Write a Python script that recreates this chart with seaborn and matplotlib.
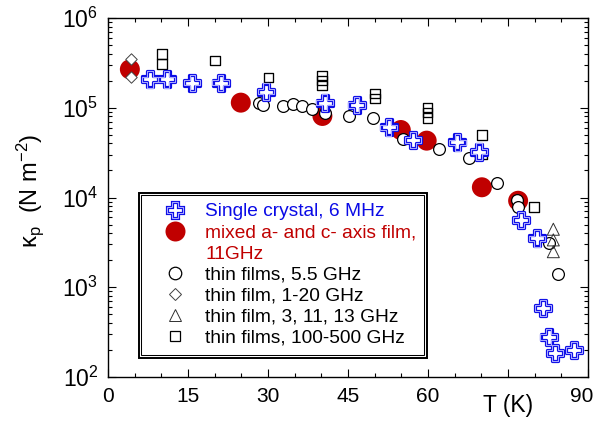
import matplotlib
matplotlib.use("Agg")
import matplotlib.pyplot as plt
import matplotlib.patheffects as pe
import matplotlib.transforms as mtransforms
from matplotlib.lines import Line2D
from matplotlib.ticker import MultipleLocator, LogLocator, NullFormatter
import seaborn as sns

# Penetration-depth stiffness kappa_p versus temperature, several data sets
cross_T = [7.9, 11.0, 15.8, 21.1, 29.6, 40.6, 46.6, 52.6, 57.2, 65.5, 69.6,
           77.4, 80.4, 81.6, 82.6, 83.8, 87.4]
cross_k = [2.07e5, 2.07e5, 1.9e5, 1.9e5, 1.51e5, 1.14e5, 1.07e5, 6.05e4,
           4.37e4, 4.12e4, 3.24e4, 5.6e3, 3.5e3, 5.9e2, 2.8e2, 1.84e2, 2.0e2]

mixed_T = [4.1, 24.9, 40.2, 54.9, 59.75, 70.1, 76.9]
mixed_k = [2.68e5, 1.14e5, 8.1e4, 5.65e4, 4.3e4, 1.3e4, 9.2e3]

film55_T = [28.4, 29.0, 32.75, 34.6, 36.3, 38.2, 40.7, 45.1, 49.75, 55.3,
            62.1, 67.75, 72.9, 76.75, 76.8, 82.6, 84.4]
film55_k = [1.12e5, 1.07e5, 1.05e5, 1.09e5, 1.05e5, 9.6e4, 8.7e4, 8.1e4,
            7.6e4, 4.45e4, 3.44e4, 2.78e4, 1.44e4, 9.4e3, 7.8e3, 3.1e3, 1.39e3]

film120_T = [4.3, 4.3]
film120_k = [3.5e5, 2.22e5]

film31113_T = [83.5, 83.5, 83.5]
film31113_k = [4.43e3, 3.37e3, 2.49e3]

film100500_T = [10.1, 10.1, 20.1, 30.1, 40.1, 40.1, 40.1, 50.1, 50.1,
                59.9, 59.9, 59.9, 70.1, 70.1, 79.9]
film100500_k = [3.97e5, 3.07e5, 3.35e5, 2.18e5, 2.30e5, 2.02e5, 1.78e5,
                1.44e5, 1.26e5, 1.01e5, 8.8e4, 7.7e4, 4.97e4, 3.05e4, 7.8e3]

labels = ["Single crystal, 6 MHz", "mixed a- and c- axis film,", "11GHz",
          "thin films, 5.5 GHz", "thin film, 1-20 GHz",
          "thin film, 3, 11, 13 GHz", "thin films, 100-500 GHz"]

x_ticks = [0, 15, 30, 45, 60, 75, 90]
x_tick_labels = ["0", "15", "30", "45", "60", "", "90"]

BLUE = "#0a0ae6"
LIGHT = "#a8a8ff"
RED = "#c00000"

sns.set_style("ticks")
plt.rcParams["font.family"] = ["Liberation Sans", "DejaVu Sans"]
plt.rcParams["mathtext.fontset"] = "custom"
plt.rcParams["mathtext.rm"] = "Liberation Sans"
plt.rcParams["mathtext.it"] = "Liberation Sans"
plt.rcParams["mathtext.sf"] = "Liberation Sans"
plt.rcParams["text.color"] = "black"
plt.rcParams["axes.labelcolor"] = "black"
plt.rcParams["xtick.color"] = "black"
plt.rcParams["ytick.color"] = "black"

fig = plt.figure(figsize=(5.97, 4.26), dpi=100)
ax = fig.add_axes([108 / 597, 1 - 377 / 426, 480 / 597, 359 / 426])

# filled red circles
sns.scatterplot(x=mixed_T, y=mixed_k, ax=ax, marker="o", s=207, color=RED,
                edgecolor="none", linewidth=0, zorder=2, legend=False)
# open circles
sns.scatterplot(x=film55_T, y=film55_k, ax=ax, marker="o", s=72,
                facecolor="white", edgecolor="black", linewidth=0.9,
                zorder=3, legend=False)
# diamonds
sns.scatterplot(x=film120_T, y=film120_k, ax=ax, marker="D", s=34,
                facecolor="white", edgecolor="#404040", linewidth=0.7,
                zorder=3, legend=False)
# triangles
sns.scatterplot(x=film31113_T, y=film31113_k, ax=ax, marker="^", s=75,
                facecolor="none", edgecolor="#303030", linewidth=0.7,
                zorder=3, legend=False)
# squares
sns.scatterplot(x=film100500_T, y=film100500_k, ax=ax, marker="s", s=46,
                facecolor="none", edgecolor="black", linewidth=0.95,
                zorder=3, legend=False)
# single-crystal crosses with a double outline
sns.scatterplot(x=cross_T, y=cross_k, ax=ax, marker="P", s=140,
                facecolor="white", edgecolor=BLUE, linewidth=2.3,
                zorder=4, legend=False)
sns.scatterplot(x=cross_T, y=cross_k, ax=ax, marker="P", s=140,
                facecolor="none", edgecolor=LIGHT, linewidth=0.8,
                zorder=4.1, legend=False)

ax.set_yscale("log")
ax.set_xlim(0, 90)
ax.set_ylim(1e2, 1e6)
ax.set_xticks(x_ticks)
ax.set_xticklabels(x_tick_labels)
ax.xaxis.set_minor_locator(MultipleLocator(5))
ax.yaxis.set_major_locator(LogLocator(base=10, numticks=10))
ax.yaxis.set_minor_locator(LogLocator(base=10, subs=range(2, 10), numticks=50))
ax.yaxis.set_minor_formatter(NullFormatter())

for s in ax.spines.values():
    s.set_linewidth(1.0)
    s.set_color("black")
    s.set_visible(True)
ax.tick_params(which="both", direction="in", top=True, right=True,
               color="black", width=0.8)
ax.tick_params(which="major", length=5.5, pad=7)
ax.tick_params(which="minor", length=3)
ax.tick_params(axis="x", labelsize=15, labelcolor="black")
ax.tick_params(axis="y", labelsize=16.5, labelcolor="black")

# the last x label sits against the right edge of the figure
last = ax.get_xticklabels()[-1]
last.set_transform(last.get_transform() +
                   mtransforms.ScaledTranslation(-0.06, 0, fig.dpi_scale_trans))

ax.set_xlabel("T (K)", fontsize=16.5)
ax.xaxis.set_label_coords(0.833, -0.048)
ax.xaxis.label.set_verticalalignment("top")
ax.set_ylabel(r"κ$_\mathregular{p}$  (N m$^{-2}$)", fontsize=17,
              va="center")
ax.yaxis.set_label_coords(-0.163, 0.52)

# legend
handles = [
    (Line2D([], [], ls="none", marker="P", ms=11.8, mfc="white", mec=BLUE, mew=2.3),
     Line2D([], [], ls="none", marker="P", ms=11.8, mfc="none", mec=LIGHT, mew=0.8)),
    Line2D([], [], ls="none", marker="o", ms=14.4, mfc=RED, mec="none"),
    Line2D([], [], ls="none", marker=""),
    Line2D([], [], ls="none", marker="o", ms=9.0, mfc="white", mec="black", mew=0.9),
    Line2D([], [], ls="none", marker="D", ms=6.3, mfc="white", mec="#404040", mew=0.7),
    Line2D([], [], ls="none", marker="^", ms=9.0, mfc="white", mec="#303030", mew=0.7),
    Line2D([], [], ls="none", marker="s", ms=7.2, mfc="white", mec="black", mew=0.9),
]
leg = ax.legend(handles, labels, loc="upper left",
                bbox_to_anchor=((140.5 - 108) / 480, (377 - 195) / 359),
                borderaxespad=0, fontsize=13.8, frameon=True, fancybox=False,
                framealpha=1, borderpad=0.42, handlelength=2.77,
                handletextpad=0.18, labelspacing=0.19)
text_colors = [BLUE, RED, RED, "black", "black", "black", "black"]
for t, c in zip(leg.get_texts(), text_colors):
    t.set_color(c)
frame = leg.get_frame()
frame.set_edgecolor("black")
frame.set_linewidth(0.75)
frame.set_path_effects([pe.Stroke(linewidth=5, foreground="black"),
                        pe.Stroke(linewidth=2.2, foreground="white"),
                        pe.Normal()])
leg.set_zorder(5)

fig.savefig("out.png", dpi=100)
